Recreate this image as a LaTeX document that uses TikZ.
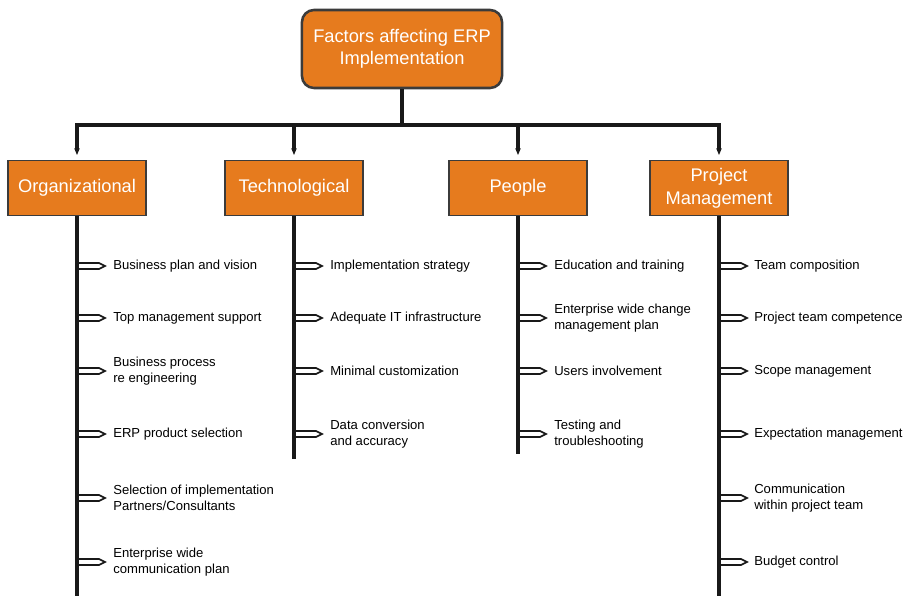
\documentclass[tikz,border=0pt]{standalone}
\usepackage{fontspec}
\setmainfont{Liberation Sans}
\usetikzlibrary{arrows.meta, positioning, calc}

\definecolor{erporange}{HTML}{E67B1E}
\definecolor{erpedge}{HTML}{3B3B3B}

% hollow side arrow from a spine to an item
\newcommand{\twig}[2]{%
  \filldraw[twigarrow] ($(#1.south |- #2.west)+(2,-3)$) -- ++(20,0) -- ++(6,3)
    -- ++(-6,3) -- ++(-20,0);}

\begin{document}
\begin{tikzpicture}[
    x=0.025cm, y=-0.025cm,
    head/.style ={fill=erporange, draw=erpedge, line width=1.8pt, rounded corners=0.3cm,
                  minimum width=5cm, minimum height=1.95cm, align=center, text=white,
                  font=\fontsize{13}{16}\selectfont},
    cat/.style  ={fill=erporange, draw=erpedge, line width=1.4pt,
                  minimum width=3.45cm, minimum height=1.375cm, align=center, text=white,
                  font=\fontsize{13}{16.4}\selectfont},
    item/.style ={anchor=west, align=left, inner xsep=5.7pt, inner ysep=0pt,
                  font=\fontsize{9.3}{11.4}\selectfont},
    trunk/.style={draw=black!90, line width=3.4pt},
    drop/.style ={trunk, -{Triangle[length=5pt, width=3.6pt]}, shorten >=3pt},
    twigarrow/.style={fill=white, draw=black!90, line width=1.2pt, line join=miter}
  ]
  \useasboundingbox (0,0) rectangle (904,596);

  %% ---- boxes -------------------------------------------------------
  \node[head] (top)    at (402,49)  {Factors affecting ERP\\Implementation};
  \node[cat]  (org)    at (77,188)  {Organizational};
  \node[cat]  (tech)   at (294,188) {Technological};
  \node[cat]  (people) at (518,188) {People};
  \node[cat]  (pm)     at (719,188) {Project\\Management};

  %% ---- tree --------------------------------------------------------
  \coordinate (bar) at (400,125);
  \draw[trunk] (top) -- (top |- bar);
  \draw[trunk, line cap=rect] (org.north |- bar) -- (pm.north |- bar);
  \foreach \c in {org, tech, people, pm}
    \draw[drop] (\c.north |- bar) -- (\c.north);

  %% ---- Organizational ----------------------------------------------
  \node[item] (o1) at (105,266) {Business plan and vision};
  \node[item] (o2) at (105,318) {Top management support};
  \node[item] (o3) at (105,371) {Business process\\re engineering};
  \node[item] (o4) at (105,434) {ERP product selection};
  \node[item] (o5) at (105,498) {Selection of implementation\\Partners/Consultants};
  \node[item] (o6) at (105,562) {Enterprise wide\\communication plan};
  \foreach \i in {o1,o2,o3,o4,o5,o6} \twig{org}{\i}
  \coordinate (orgend) at (77,596);
  \draw[trunk] (org) -- (orgend);

  %% ---- Technological -----------------------------------------------
  \node[item] (t1) at (322,266) {Implementation strategy};
  \node[item] (t2) at (322,318) {Adequate IT infrastructure};
  \node[item] (t3) at (322,371) {Minimal customization};
  \node[item] (t4) at (322,434) {Data conversion\\and accuracy};
  \foreach \i in {t1,t2,t3,t4} \twig{tech}{\i}
  \coordinate (techend) at (293,459);
  \draw[trunk] (tech) -- (tech |- techend);

  %% ---- People ------------------------------------------------------
  \node[item] (p1) at (546,266) {Education and training};
  \node[item] (p2) at (546,318) {Enterprise wide change\\management plan};
  \node[item] (p3) at (546,371) {Users involvement};
  \node[item] (p4) at (546,434) {Testing and\\troubleshooting};
  \foreach \i in {p1,p2,p3,p4} \twig{people}{\i}
  \coordinate (peopleend) at (518,454);
  \draw[trunk] (people) -- (people |- peopleend);

  %% ---- Project Management ------------------------------------------
  \node[item] (m1) at (746,266) {Team composition};
  \node[item] (m2) at (746,318) {Project team competence};
  \node[item] (m3) at (746,371) {Scope management};
  \node[item] (m4) at (746,434) {Expectation management};
  \node[item] (m5) at (746,498) {Communication\\within project team};
  \node[item] (m6) at (746,562) {Budget control};
  \foreach \i in {m1,m2,m3,m4,m5,m6} \twig{pm}{\i}
  \coordinate (pmend) at (719,596);
  \draw[trunk] (pm) -- (pm |- pmend);

\end{tikzpicture}
\end{document}
